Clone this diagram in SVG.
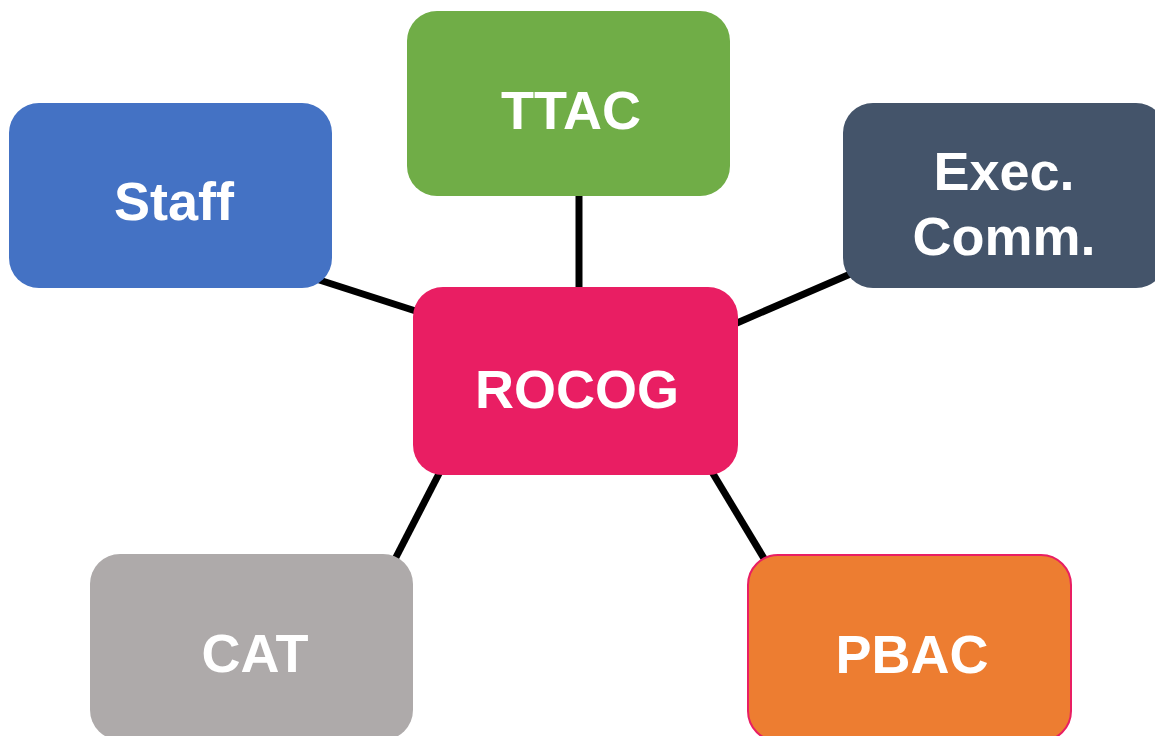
<svg xmlns="http://www.w3.org/2000/svg" width="1155" height="736" viewBox="0 0 1155 736">
<style>
.box{stroke:none}
.lbl{font-family:"Liberation Sans",Arial,sans-serif;font-weight:bold;font-size:54px;fill:#ffffff;text-anchor:middle}
.conn line{stroke:#000000;stroke-width:7;stroke-linecap:butt}
</style>
<rect width="1155" height="736" fill="#ffffff"/>
<g id="connectors" class="conn">
<line x1="579" y1="190" x2="579" y2="295"/>
<line x1="310" y1="277" x2="425" y2="314"/>
<line x1="730" y1="326" x2="855" y2="272"/>
<line x1="445" y1="462" x2="392" y2="565"/>
<line x1="706" y1="462" x2="768" y2="565"/>
</g>
<g id="node-ttac">
<rect class="box" x="407" y="11" width="323" height="185" rx="30" fill="#70AD47"/>
<text class="lbl" x="571" y="129">TTAC</text>
</g>
<g id="node-staff">
<rect class="box" x="9" y="103" width="323" height="185" rx="30" fill="#4472C4"/>
<text class="lbl" x="174" y="220">Staff</text>
</g>
<g id="node-exec">
<rect class="box" x="843" y="103" width="323" height="185" rx="30" fill="#44546A"/>
<text class="lbl" x="1004" y="190">Exec.</text>
<text class="lbl" x="1004" y="255">Comm.</text>
</g>
<g id="node-rocog">
<rect class="box" x="413" y="287" width="325" height="188" rx="30" fill="#E91E63"/>
<text class="lbl" x="577" y="408">ROCOG</text>
</g>
<g id="node-cat">
<rect class="box" x="90" y="554" width="323" height="186" rx="30" fill="#AEAAAA"/>
<text class="lbl" x="255" y="672">CAT</text>
</g>
<g id="node-pbac">
<rect x="748" y="555" width="323" height="186" rx="30" fill="#ED7D31" stroke="#E91E63" stroke-width="2"/>
<text class="lbl" x="912" y="673">PBAC</text>
</g>
</svg>
